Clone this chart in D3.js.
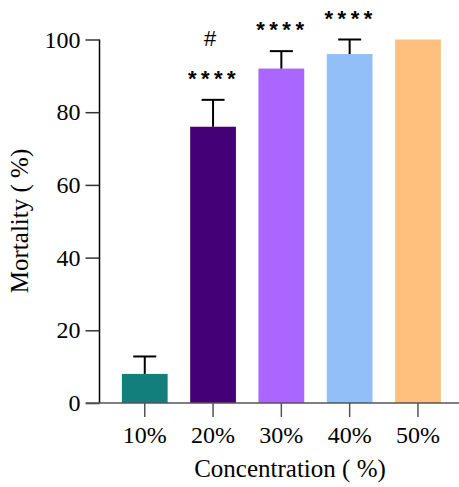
<!DOCTYPE html>
<html lang="en">
<head>
    <meta charset="UTF-8">
    <title>Mortality vs Concentration</title>
    <style>
        body { margin: 0; background: #fff; }
        text { font-family: "Liberation Serif", "Times New Roman", serif; }
    </style>
</head>
<body>
    <div id="chart"></div>
    <script src="https://d3js.org/d3.v7.min.js"></script>
    <script>
        const categories = ["10%", "20%", "30%", "40%", "50%"];
        const mortality = [8, 76, 92, 96, 100];
        const errors = [4.8, 7.4, 4.8, 4, 0];
        const colors = ["#127f7d", "#440077", "#aa66ff", "#92bff8", "#ffc07e"];
        const stars = ["", "****", "****", "****", ""];
        const hashMarks = ["", "#", "", "", ""];
        const yTicks = [0, 20, 40, 60, 80, 100];

        const width = 459, height = 487;
        const svg = d3.select("#chart").append("svg")
            .attr("width", width)
            .attr("height", height);

        const x = d3.scaleBand()
            .domain(categories)
            .range([110.6, 452.1])
            .paddingInner(0.33)
            .paddingOuter(0.165);

        const y = d3.scaleLinear()
            .domain([0, 100])
            .range([403, 39.5]);

        // bars
        svg.selectAll(".bar")
            .data(categories)
            .enter().append("rect")
            .attr("class", "bar")
            .attr("x", d => x(d))
            .attr("width", x.bandwidth())
            .attr("y", (d, i) => y(mortality[i]))
            .attr("height", (d, i) => y(0) - y(mortality[i]))
            .attr("fill", (d, i) => colors[i]);

        // error bars (upper only)
        const err = svg.selectAll(".err")
            .data(categories.filter((d, i) => errors[i] > 0))
            .enter().append("g")
            .attr("class", "err")
            .attr("stroke", "#000")
            .attr("stroke-width", 2);
        err.append("line")
            .attr("x1", d => x(d) + x.bandwidth() / 2)
            .attr("x2", d => x(d) + x.bandwidth() / 2)
            .attr("y1", d => y(mortality[categories.indexOf(d)]))
            .attr("y2", d => { const i = categories.indexOf(d); return y(mortality[i] + errors[i]); });
        err.append("line")
            .attr("x1", d => x(d) + x.bandwidth() / 2 - 11.5)
            .attr("x2", d => x(d) + x.bandwidth() / 2 + 11.5)
            .attr("y1", d => { const i = categories.indexOf(d); return y(mortality[i] + errors[i]); })
            .attr("y2", d => { const i = categories.indexOf(d); return y(mortality[i] + errors[i]); });

        // significance marks
        svg.selectAll(".stars")
            .data(categories)
            .enter().append("text")
            .attr("class", "stars")
            .attr("x", d => x(d) + x.bandwidth() / 2 + 1)
            .attr("y", (d, i) => y(mortality[i] + errors[i]) - 14)
            .attr("text-anchor", "middle")
            .style("font-family", "'Liberation Sans', Arial, sans-serif")
            .style("font-size", "22px")
            .style("font-weight", "bold")
            .style("letter-spacing", "4.5px")
            .text((d, i) => stars[i]);

        svg.selectAll(".hash")
            .data(categories)
            .enter().append("text")
            .attr("class", "hash")
            .attr("x", d => x(d) + x.bandwidth() / 2 - 3)
            .attr("y", 46)
            .attr("text-anchor", "middle")
            .style("font-family", "'Liberation Sans', Arial, sans-serif")
            .style("font-size", "22px")
            .text((d, i) => hashMarks[i]);

        // y axis
        const yAxis = svg.append("g")
            .attr("transform", "translate(99.5,0)")
            .call(d3.axisLeft(y).tickValues(yTicks).tickSize(14).tickPadding(5));
        yAxis.select(".domain").attr("stroke", "#000").attr("stroke-width", 1.5).attr("d", `M0,${y(100)}V${y(0)}`);
        yAxis.selectAll(".tick line").attr("stroke", "#333").attr("stroke-width", 1.5);
        yAxis.selectAll(".tick text")
            .style("font-family", "'Liberation Serif', serif")
            .style("font-size", "24px")
            .attr("fill", "#000");

        // x axis
        const xAxis = svg.append("g")
            .attr("transform", "translate(0,403)")
            .call(d3.axisBottom(x).tickSize(14).tickPadding(9));
        xAxis.select(".domain").attr("stroke", "#555").attr("stroke-width", 1.5).attr("d", "M86,0H459");
        xAxis.selectAll(".tick line").attr("stroke", "#555").attr("stroke-width", 1.5);
        xAxis.selectAll(".tick text")
            .style("font-family", "'Liberation Serif', serif")
            .style("font-size", "24px")
            .attr("fill", "#000");

        // axis titles
        svg.append("text")
            .attr("x", 290)
            .attr("y", 477)
            .attr("text-anchor", "middle")
            .style("font-size", "25px")
            .text("Concentration ( %)");

        svg.append("text")
            .attr("transform", "translate(28,221) rotate(-90)")
            .attr("text-anchor", "middle")
            .style("font-size", "25px")
            .text("Mortality ( %)");
    </script>
</body>
</html>
